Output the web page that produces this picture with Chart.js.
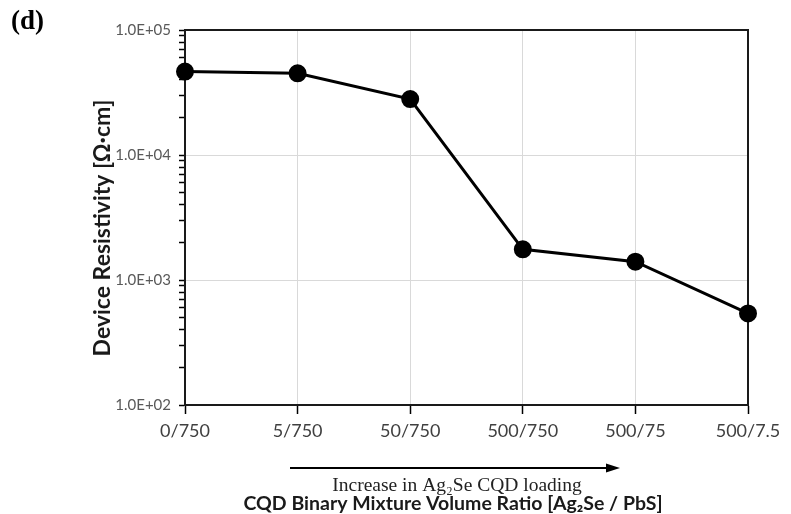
<!DOCTYPE html>
<html lang="en">
<head>
<meta charset="UTF-8">
<script src="https://cdn.jsdelivr.net/npm/chart.js"></script>
<style>
  html, body { margin: 0; padding: 0; background: #fff; }
  #wrap { width: 791px; height: 514px; }
</style>
</head>
<body>
<div id="wrap"><canvas id="myChart"></canvas></div>
<script>
// data
const ratioLabels = ['0/750', '5/750', '50/750', '500/750', '500/75', '500/7.5'];
const resistivity = [46500, 45000, 28000, 1760, 1400, 540];
const yDecades = [1e2, 1e3, 1e4, 1e5];
const yMinorSteps = [2, 3, 4, 5, 6, 7, 8, 9];

const panelLabel = '(d)';
const xTitle = 'CQD Binary Mixture Volume Ratio [Ag₂Se / PbS]';
const yTitle = 'Device Resistivity [Ω·cm]';
const arrowNote = 'Increase in Ag₂Se CQD loading';

function isDecade(v) { return yDecades.includes(v); }
function sciLabel(v) {
    let e = Math.round(Math.log10(v));
    return '1.0E+' + String(e).padStart(2, '0');
}

// box round the plot + the notes under the x axis
const extras = {
    id: 'extras',
    beforeDatasetsDraw(chart) {
        const {ctx, chartArea: a} = chart;
        ctx.save();
        ctx.strokeStyle = '#1a1a1a';
        ctx.lineWidth = 2;
        ctx.strokeRect(a.left, a.top, a.right - a.left, a.bottom - a.top);
        ctx.restore();
    },
    afterDraw(chart) {
        const ctx = chart.ctx;
        ctx.save();
        // panel letter
        ctx.fillStyle = '#000';
        ctx.font = 'bold 27px "Liberation Serif"';
        ctx.textAlign = 'left';
        ctx.textBaseline = 'alphabetic';
        ctx.fillText(panelLabel, 11, 29);

        // arrow
        ctx.strokeStyle = '#000';
        ctx.lineWidth = 2;
        ctx.beginPath();
        ctx.moveTo(290, 468);
        ctx.lineTo(608, 468);
        ctx.stroke();
        ctx.beginPath();
        ctx.moveTo(620, 468);
        ctx.lineTo(606, 463.5);
        ctx.lineTo(606, 472.5);
        ctx.closePath();
        ctx.fill();

        ctx.textAlign = 'center';
        ctx.textBaseline = 'middle';
        ctx.fillStyle = '#222';
        ctx.font = '19.5px "Liberation Serif"';
        ctx.fillText(arrowNote, 457, 486);

        ctx.fillStyle = '#1a1a1a';
        ctx.font = 'bold 19.5px Lato';
        ctx.fillText(xTitle, 453, 504);

        ctx.translate(103, 228);
        ctx.rotate(-Math.PI / 2);
        ctx.font = 'bold 23px Lato';
        ctx.fillText(yTitle, 0, 0);
        ctx.restore();
    }
};

let ctx = document.getElementById('myChart');
let configs = {
    type: 'line',
    data: {
        labels: ratioLabels,
        datasets: [{
            data: resistivity,
            borderColor: '#000',
            borderWidth: 3,
            pointRadius: 7.5,
            pointBackgroundColor: '#000',
            pointBorderColor: '#000',
            tension: 0,
            clip: false
        }]
    },
    options: {
        responsive: true,
        maintainAspectRatio: false,
        animation: false,
        layout: { padding: { left: 0, right: 43, top: 30, bottom: 0 } },
        plugins: { legend: { display: false }, tooltip: { enabled: false } },
        scales: {
            x: {
                type: 'category',
                offset: false,
                afterFit(s) { s.height = 109; },
                border: { color: '#000', width: 2 },
                grid: { color: '#d9d9d9', tickColor: '#000', tickLength: 9, tickWidth: 1.5 },
                ticks: {
                    autoSkip: false, maxRotation: 0, padding: 6,
                    color: '#404040', font: { family: 'Lato', size: 18 }
                }
            },
            y: {
                type: 'logarithmic',
                min: 100,
                max: 100000,
                afterFit(s) { s.width = 185; },
                afterBuildTicks(s) {
                    let t = [];
                    yDecades.forEach(function(d, i) {
                        t.push({ value: d });
                        if (i < yDecades.length - 1) {
                            yMinorSteps.forEach(function(m) { t.push({ value: d * m }); });
                        }
                    });
                    s.ticks = t;
                },
                border: { color: '#000', width: 2 },
                grid: {
                    color: c => (c.tick && isDecade(c.tick.value)) ? '#d9d9d9' : 'rgba(0,0,0,0)',
                    tickColor: '#000', tickLength: 6, tickWidth: 1.5
                },
                ticks: {
                    autoSkip: false, padding: 8,
                    color: '#595959', font: { family: 'Lato', size: 15 },
                    callback: v => isDecade(v) ? sciLabel(v) : ''
                }
            }
        }
    },
    plugins: [extras]
};
let myChart = new Chart(ctx, configs);
</script>
</body>
</html>
